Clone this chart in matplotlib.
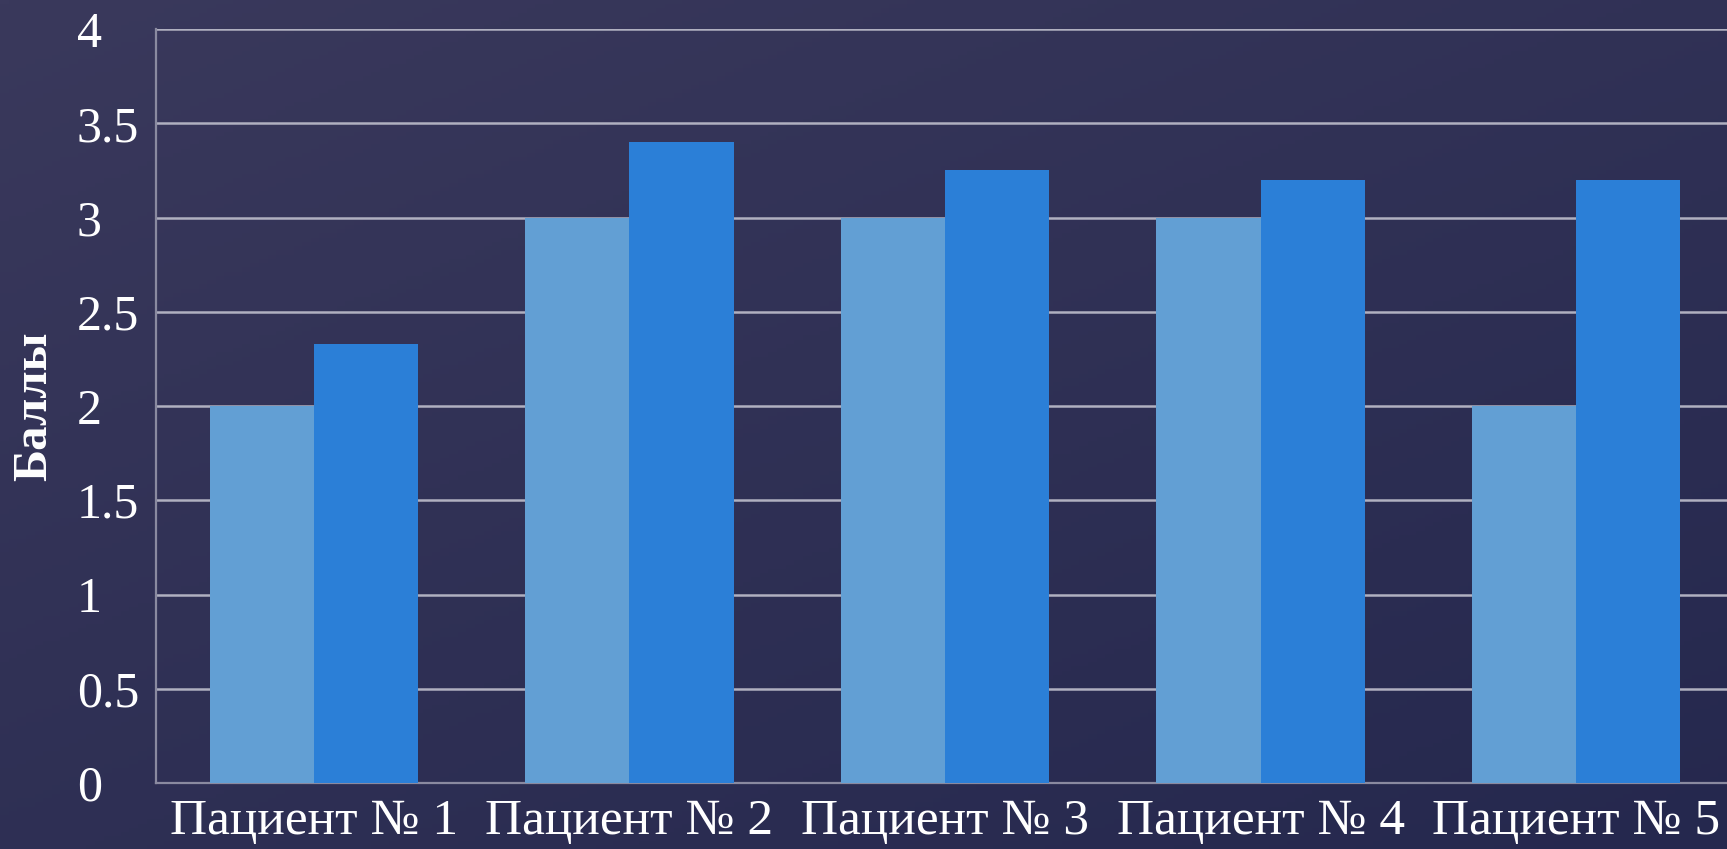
import numpy as np
import matplotlib
matplotlib.use('Agg')
import matplotlib.pyplot as plt

plt.rcParams['font.family'] = ['Liberation Serif', 'DejaVu Serif']

# данные
patients = ['Пациент № 1', 'Пациент № 2', 'Пациент № 3', 'Пациент № 4', 'Пациент № 5']
before = [2, 3, 3, 3, 2]
after = [2.33, 3.4, 3.25, 3.2, 3.2]
yticks = [0, 0.5, 1, 1.5, 2, 2.5, 3, 3.5, 4]

fig = plt.figure(figsize=(17.27, 8.49), dpi=100)

# фон - градиент
bg = fig.add_axes([0, 0, 1, 1], zorder=0)
gx, gy = np.meshgrid(np.linspace(0, 1, 200), np.linspace(0, 1, 200))
t = 0.55 * gy + 0.45 * gx
c1 = np.array([0x3a, 0x39, 0x5c]) / 255
c2 = np.array([0x25, 0x28, 0x4e]) / 255
img = c1[None, None, :] * (1 - t[..., None]) + c2[None, None, :] * t[..., None]
bg.imshow(img, aspect='auto', extent=[0, 1, 0, 1], origin='upper')
bg.axis('off')

# оси
left = 156 / 1727
bottom = 1 - 783 / 849
width = 1578 / 1727
height = (783 - 29) / 849
ax = fig.add_axes([left, bottom, width, height], zorder=1)
ax.patch.set_alpha(0)

x = np.arange(len(patients))
w = 0.33
ax.bar(x - w / 2, before, w, color='#629fd4', zorder=3)
ax.bar(x + w / 2, after, w, color='#2b7fd7', zorder=3)

ax.set_xlim(-0.5, len(patients) - 0.5)
ax.set_ylim(0, 4)
ax.set_yticks(yticks)
ax.set_yticklabels([f'{v:g}' for v in yticks])
ax.set_xticks(x)
ax.set_xticklabels(patients)
ax.yaxis.grid(True, color='#b0b0c0', lw=1.8, zorder=1)
ax.set_axisbelow(True)

for s in ['top', 'right']:
    ax.spines[s].set_visible(False)
ax.spines['left'].set_color('#8a8aa0')
ax.spines['left'].set_linewidth(1.6)
ax.spines['bottom'].set_color('#8a8aa0')
ax.spines['bottom'].set_linewidth(1.6)

ax.tick_params(axis='both', length=0, colors='white')
ax.tick_params(axis='y', pad=57, labelsize=36)
ax.tick_params(axis='x', pad=11, labelsize=37)
for lbl in ax.get_yticklabels():
    lbl.set_horizontalalignment('left')

ax.set_ylabel('Баллы', color='white', fontsize=35, fontweight='bold')
ax.yaxis.set_label_coords(-100 / 1578, 0.5)

fig.savefig('out.png', dpi=100)
